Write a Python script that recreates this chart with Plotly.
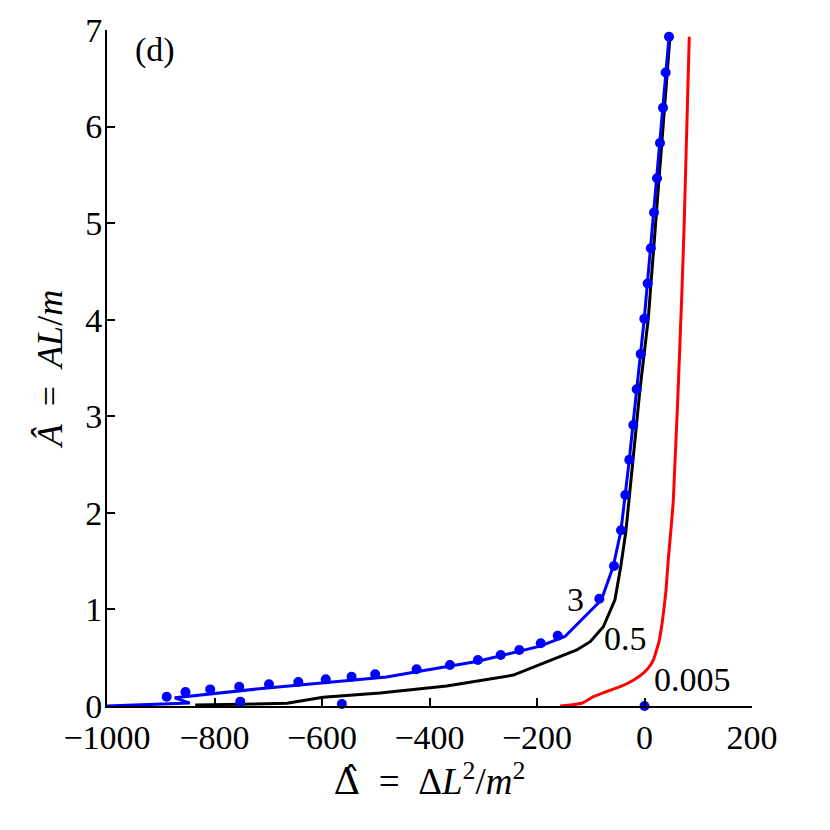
import plotly.graph_objects as go

# values (panel d)
blue_dot_x = [45.6, 39.4, 34.4, 28.8, 23.3, 17.7, 11.8, 5.8, -0.4, -7.1, -14.5, -20.8,
              -28.3, -35.7, -43.7, -56.7, -84.0, -161.5, -193.0, -233.0, -267.5, -310.0,
              -362.0, -424.0, -501.0, -545.0, -593.0, -644.0, -698.6, -754.0, -808.0,
              -854.0, -889.0, -752.0, -563.0, 0.0]
blue_dot_y = [6.93, 6.56, 6.195, 5.83, 5.465, 5.11, 4.74, 4.375, 4.01, 3.645, 3.28, 2.91,
              2.55, 2.185, 1.82, 1.45, 1.11, 0.728, 0.649, 0.58, 0.528, 0.476,
              0.425, 0.38, 0.328, 0.303, 0.276, 0.248, 0.225, 0.2, 0.172,
              0.145, 0.096, 0.045, 0.02, 0.0]

blue_x = [45.6, 28.8, 11.8, -0.4, -14.5, -28.3, -43.7, -58.0, -80.0, -148.0, -194.0,
          -312.0, -424.0, -480.0, -697.0, -874.0, -846.0, -1000.0]
blue_y = [6.93, 5.83, 4.74, 4.01, 3.28, 2.55, 1.82, 1.45, 1.10, 0.72, 0.62,
          0.46, 0.355, 0.30, 0.19, 0.085, 0.03, 0.0]

black_x = [47.4, 22.7, 7.0, -8.4, -20.8, -34.4, -44.0, -55.0, -76.6, -101.0, -126.0,
           -157.0, -244.0, -368.0, -492.0, -598.0, -665.0, -836.0]
black_y = [6.93, 5.10, 4.01, 3.28, 2.55, 1.82, 1.45, 1.10, 0.82, 0.666, 0.58,
           0.51, 0.32, 0.207, 0.135, 0.09, 0.028, 0.01]

red_x = [83.3, 74.0, 69.0, 53.6, 44.0, 40.0, 36.0, 32.5, 27.5, 22.0, 16.4, 8.0, -2.2,
         -20.0, -45.6, -70.0, -95.0, -117.0, -157.0]
red_y = [6.93, 5.03, 4.20, 2.13, 1.50, 1.20, 1.00, 0.85, 0.68, 0.57, 0.476, 0.40, 0.34,
         0.27, 0.20, 0.15, 0.096, 0.028, 0.0]

curve_labels = ["3", "0.5", "0.005"]
label_x = [-129, -36, 90]
label_y = [1.10, 0.70, 0.27]

FONT = "Liberation Serif"

fig = go.Figure()
fig.add_trace(go.Scatter(x=black_x, y=black_y, mode="lines",
                         line=dict(color="black", width=3)))
fig.add_trace(go.Scatter(x=red_x, y=red_y, mode="lines", line_shape="spline",
                         line=dict(color="#ff0000", width=3, smoothing=0.6)))
fig.add_trace(go.Scatter(x=blue_x, y=blue_y, mode="lines",
                         line=dict(color="#0000ff", width=3)))
fig.add_trace(go.Scatter(x=blue_dot_x, y=blue_dot_y, mode="markers", cliponaxis=False,
                         marker=dict(color="#0000ff", size=10)))

for t, x, y in zip(curve_labels, label_x, label_y):
    fig.add_annotation(x=x, y=y, text=t, showarrow=False,
                       font=dict(family=FONT, size=34, color="black"))
fig.add_annotation(x=-910, y=6.79, text="(d)", showarrow=False,
                   font=dict(family=FONT, size=34, color="black"))

axis = dict(showline=True, linecolor="black", linewidth=2, showgrid=False, zeroline=False,
            ticks="inside", ticklen=8, tickwidth=1.5, tickcolor="black",
            tickfont=dict(family=FONT, size=34, color="black"), mirror=False)

# the hat on the Delta: DejaVu Serif places the combining mark properly
xtitle = ('<span style="font-family:DejaVu Serif">\u0394\u0302</span>'
          '\u2002=\u2002\u0394<i>L</i><sup>2</sup>/<i>m</i><sup>2</sup>')
ytitle = "<i>\u00c2</i>\u2002=\u2002<i>AL</i>/<i>m</i>"

fig.update_xaxes(range=[-1000, 200], tickvals=[-1000, -800, -600, -400, -200, 0, 200],
                 title=dict(text=xtitle, font=dict(family=FONT, size=37, color="black"),
                            standoff=6),
                 **axis)
fig.update_yaxes(range=[0, 7], tickvals=[0, 1, 2, 3, 4, 5, 6, 7], ticklabelstandoff=-4,
                 title=dict(text=ytitle, font=dict(family=FONT, size=36, color="black"),
                            standoff=12),
                 **axis)

# page body has an 8px margin, so the plot box is shifted by that amount
fig.update_layout(width=830, height=830, showlegend=False,
                  plot_bgcolor="white", paper_bgcolor="white",
                  margin=dict(l=99, r=86, t=22, b=132, autoexpand=False))

fig.write_html("out.html")
